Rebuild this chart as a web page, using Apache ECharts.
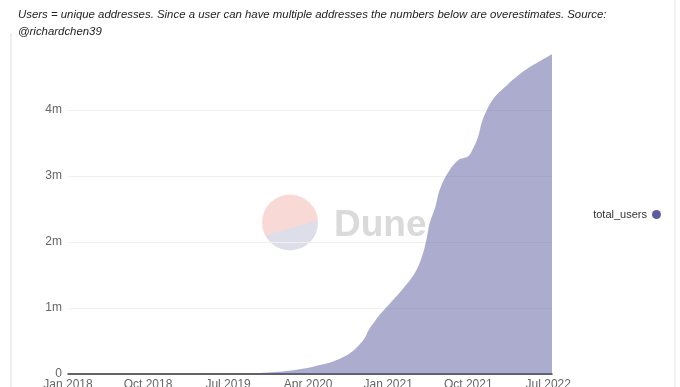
<!DOCTYPE html>
<html>
<head>
<meta charset="utf-8">
<script src="https://cdn.jsdelivr.net/npm/echarts@6/dist/echarts.min.js"></script>
<style>
html,body{margin:0;padding:0;background:#fff;}
#c{width:680px;height:387px;}
</style>
</head>
<body>
<div id="c"></div>
<script>
// ---- data ----
const dates = [
  '2018-01-01','2018-04-01','2018-07-01','2018-10-01','2019-01-01','2019-04-01',
  '2019-07-28','2019-09-12','2019-11-01','2019-12-25','2020-02-10','2020-03-25',
  '2020-05-10','2020-06-25','2020-08-10','2020-09-05','2020-09-25','2020-10-13',
  '2020-10-28','2020-11-15','2020-12-03','2021-01-07','2021-02-21','2021-04-01',
  '2021-04-25','2021-05-10','2021-05-22','2021-06-10','2021-06-25','2021-07-22',
  '2021-08-28','2021-10-01','2021-10-16','2021-11-04','2021-11-16','2021-12-04',
  '2022-01-01','2022-02-12','2022-03-25','2022-05-10','2022-07-07','2022-07-14'
];
const totalUsers = [
  0, 300, 600, 900, 1300, 1800,
  2500, 6000, 18000, 35000, 58000, 86000,
  135000, 190000, 280000, 360000, 450000, 550000,
  680000, 790000, 900000, 1070000, 1300000, 1530000,
  1780000, 2030000, 2290000, 2530000, 2790000, 3040000,
  3240000, 3300000, 3400000, 3590000, 3800000, 4000000,
  4200000, 4380000, 4540000, 4680000, 4830000, 4850000
];
const seriesName = 'total_users';
const monthNames = ['Jan','Feb','Mar','Apr','May','Jun','Jul','Aug','Sep','Oct','Nov','Dec'];
const yTicks = { 0: '0', 1000000: '1m', 2000000: '2m', 3000000: '3m', 4000000: '4m' };
const subtitle = 'Users = unique addresses. Since a user can have multiple addresses the numbers below are overestimates. Source:\n@richardchen39';

// month index since Jan 2018
function monthIndex(d) {
  const [y, m, day] = d.split('-').map(Number);
  const dim = new Date(y, m, 0).getDate();
  return (y - 2018) * 12 + (m - 1) + (day - 1) / dim;
}
const points = dates.map((d, i) => [monthIndex(d), totalUsers[i]]);
const xMax = points[points.length - 1][0];

const chart = echarts.init(document.getElementById('c'), null, { renderer: 'canvas' });
chart.setOption({
  animation: false,
  backgroundColor: '#fff',
  title: {
    text: subtitle,
    left: 13, top: 1,
    textStyle: { fontFamily: 'Liberation Sans', fontSize: 11.4, fontStyle: 'italic', fontWeight: 'normal', color: '#222', lineHeight: 17 }
  },
  grid: { left: 68, right: 128, top: 44, bottom: 13, containLabel: false, outerBoundsMode: 'none' },
  legend: {
    orient: 'vertical', right: 14, top: 204,
    icon: 'circle', itemWidth: 9, itemHeight: 9, align: 'right', itemGap: 5,
    textStyle: { fontFamily: 'Liberation Sans', fontSize: 11, color: '#333' },
    data: [seriesName]
  },
  xAxis: {
    type: 'value', min: 0, max: xMax, interval: 9,
    axisLine: { show: true, lineStyle: { color: '#333', width: 1.5 } },
    axisTick: { show: false },
    splitLine: { show: false },
    axisLabel: {
      margin: 5, color: '#666', fontFamily: 'Liberation Sans', fontSize: 12,
      formatter: v => {
        if (Math.abs(v - Math.round(v)) > 1e-6 || Math.round(v) % 9 !== 0) return '';
        const r = Math.round(v);
        return monthNames[r % 12] + ' ' + (2018 + Math.floor(r / 12));
      }
    }
  },
  yAxis: {
    type: 'value', min: 0, max: 5000000, interval: 1000000,
    axisLine: { show: false }, axisTick: { show: false },
    splitLine: { show: true, showMaxLine: false, lineStyle: { color: '#f0f0f0' } },
    axisLabel: {
      margin: 6, color: '#666', fontFamily: 'Liberation Sans', fontSize: 12, showMaxLabel: false,
      formatter: v => (yTicks[v] !== undefined ? yTicks[v] : '')
    }
  },
  graphic: [
    { type: 'line', shape: { x1: 11, y1: 33, x2: 11, y2: 387 }, style: { stroke: '#dddddd', lineWidth: 1 }, z: 0 },
    { type: 'line', shape: { x1: 675, y1: 0, x2: 675, y2: 387 }, style: { stroke: '#e6e6e6', lineWidth: 1 }, z: 0 },
    {
      type: 'circle', shape: { cx: 290, cy: 222.5, r: 28 }, z: 0, silent: true,
      style: {
        fill: new echarts.graphic.LinearGradient(0.36, 0.02, 0.64, 0.98, [
          { offset: 0, color: '#f9d9d6' }, { offset: 0.6, color: '#f9d9d6' },
          { offset: 0.6, color: '#dddeea' }, { offset: 1, color: '#dddeea' }
        ])
      }
    },
    {
      type: 'text', left: 334, top: 207, z: 0, silent: true,
      style: { text: 'Dune', fill: '#dadada', font: 'bold 37px "Liberation Sans"' }
    }
  ],
  series: [{
    name: seriesName, type: 'line', data: points,
    smooth: 0.4, showSymbol: false, symbol: 'circle',
    itemStyle: { color: '#5a5c9e' },
    lineStyle: { width: 0 },
    areaStyle: { color: '#5a5c9e', opacity: 0.5 },
    z: 2
  }]
});
</script>
</body>
</html>
